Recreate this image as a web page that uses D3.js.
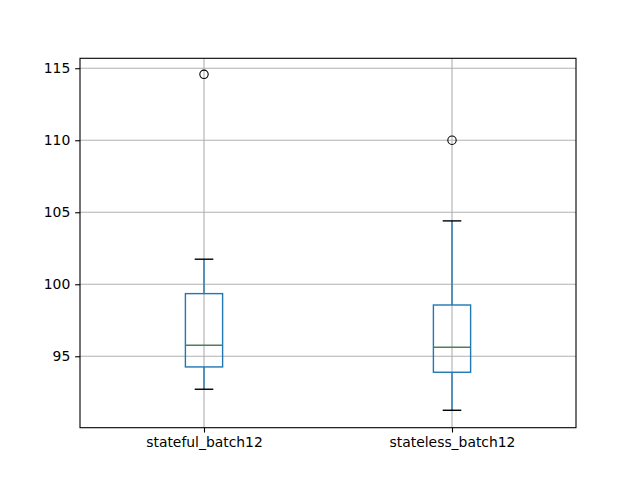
<!DOCTYPE html>
<html>
<head>
<meta charset="utf-8">
<script src="https://cdn.jsdelivr.net/npm/d3@7"></script>
<style>
  body { margin: 0; background: #fff; }
  text { font-family: "DejaVu Sans", sans-serif; }
</style>
</head>
<body>
<div id="chart"></div>
<script>
// values
const categories = ["stateful_batch12", "stateless_batch12"];
const whiskerLow = [92.71, 91.25];
const q1 = [94.26, 93.89];
const median = [95.76, 95.63];
const q3 = [99.35, 98.56];
const whiskerHigh = [101.74, 104.40];
const outliers = [[114.58], [110.0]];
const yTicks = [95, 100, 105, 110, 115];

const width = 640, height = 480;
const margin = { top: 58.3, left: 80, bottom: 480 - 427.7, right: 640 - 576 };

const svg = d3.select("#chart").append("svg")
    .attr("width", width)
    .attr("height", height);

const x = d3.scalePoint()
    .domain(categories)
    .range([margin.left, width - margin.right])
    .padding(0.5);

const y = d3.scaleLinear()
    .domain([90.04, 115.69])
    .range([height - margin.bottom, margin.top]);

const boxW = x.step() * 0.15;
const capW = boxW / 2;
const blue = "#1f77b4";

// grid
const grid = svg.append("g");
grid.selectAll("line.gy").data(yTicks).enter().append("line")
    .attr("x1", margin.left).attr("x2", width - margin.right)
    .attr("y1", d => y(d)).attr("y2", d => y(d))
    .attr("stroke", "#b0b0b0").attr("stroke-width", 1.1);
grid.selectAll("line.gx").data(categories).enter().append("line")
    .attr("x1", d => x(d)).attr("x2", d => x(d))
    .attr("y1", margin.top).attr("y2", height - margin.bottom)
    .attr("stroke", "#b0b0b0").attr("stroke-width", 1.1);

const idx = d3.range(categories.length);
const g = svg.append("g");

// whiskers
g.selectAll("line.wl").data(idx).enter().append("line")
    .attr("x1", i => x(categories[i])).attr("x2", i => x(categories[i]))
    .attr("y1", i => y(whiskerLow[i])).attr("y2", i => y(q1[i]))
    .attr("stroke", blue).attr("stroke-width", 1.4);
g.selectAll("line.wh").data(idx).enter().append("line")
    .attr("x1", i => x(categories[i])).attr("x2", i => x(categories[i]))
    .attr("y1", i => y(q3[i])).attr("y2", i => y(whiskerHigh[i]))
    .attr("stroke", blue).attr("stroke-width", 1.4);

// caps
[whiskerLow, whiskerHigh].forEach(arr => {
  g.selectAll(null).data(idx).enter().append("line")
    .attr("x1", i => x(categories[i]) - capW / 2).attr("x2", i => x(categories[i]) + capW / 2)
    .attr("y1", i => y(arr[i])).attr("y2", i => y(arr[i]))
    .attr("stroke", "#000").attr("stroke-width", 1.4);
});

// boxes
g.selectAll("rect.box").data(idx).enter().append("rect")
    .attr("x", i => x(categories[i]) - boxW / 2)
    .attr("y", i => y(q3[i]))
    .attr("width", boxW)
    .attr("height", i => y(q1[i]) - y(q3[i]))
    .attr("fill", "none").attr("stroke", blue).attr("stroke-width", 1.4);

// medians
g.selectAll("line.med").data(idx).enter().append("line")
    .attr("x1", i => x(categories[i]) - boxW / 2).attr("x2", i => x(categories[i]) + boxW / 2)
    .attr("y1", i => y(median[i])).attr("y2", i => y(median[i]))
    .attr("stroke", "#4f7f5b").attr("stroke-width", 1.4);

// outliers
const fl = idx.flatMap(i => outliers[i].map(v => ({ c: categories[i], v })));
g.selectAll("circle").data(fl).enter().append("circle")
    .attr("cx", d => x(d.c)).attr("cy", d => y(d.v)).attr("r", 4.2)
    .attr("fill", "none").attr("stroke", "#000").attr("stroke-width", 1.1);

// axes
const tk = 4.86;
const yAxis = svg.append("g")
    .attr("transform", `translate(${margin.left},0)`)
    .call(d3.axisLeft(y).tickValues(yTicks).tickSize(tk).tickPadding(tk).tickFormat(d3.format("d")));
const xAxis = svg.append("g")
    .attr("transform", `translate(0,${height - margin.bottom})`)
    .call(d3.axisBottom(x).tickSize(tk).tickPadding(tk));
[yAxis, xAxis].forEach(a => {
  a.select(".domain").remove();
  a.selectAll("line").attr("stroke", "#000").attr("stroke-width", 1.1);
  a.selectAll("text").attr("font-size", "13.9px").attr("fill", "#000")
    .style("font-family", "'DejaVu Sans', sans-serif");
});

// frame
svg.append("rect")
    .attr("x", margin.left).attr("y", margin.top)
    .attr("width", width - margin.left - margin.right)
    .attr("height", height - margin.top - margin.bottom)
    .attr("fill", "none").attr("stroke", "#000").attr("stroke-width", 1.1);
</script>
</body>
</html>
